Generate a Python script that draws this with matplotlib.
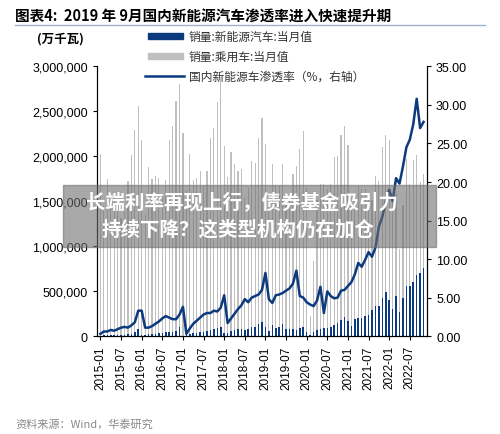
import matplotlib
matplotlib.use("Agg")
import matplotlib.pyplot as plt
import matplotlib.ticker as mt
import numpy as np

plt.rcParams['font.family'] = ['Noto Sans CJK SC', 'DejaVu Sans']

months = [f"{y}-{m:02d}" for y in range(2015, 2023) for m in range(1, 13)][:95]
passenger = [2030,1450,1750,1550,1560,1490,1310,1390,1730,2020,2290,2560,
             2180,1350,1880,1750,1780,1760,1560,1740,2180,2340,2610,2800,
             2260,1630,2030,1740,1760,1840,1670,1840,2200,2310,2600,2880,
             2120,1770,2050,1910,1840,1860,1540,1650,1950,1930,2200,2430,
             2140,1390,1910,1680,1670,1910,1470,1580,1800,1890,2080,2280,
             1650,220,840,1510,1690,1690,1640,1690,1990,2000,2240,2340,
             2130,1460,1560,1670,1640,1640,1550,1510,1780,1730,2100,2240,
             2180,1480,1580,970,1460,1970,1690,1960,2010,1710,1800]
nev = [6,9,11,13,11,13,14,17,19,28,42,82,
       10,15,22,25,28,34,36,45,46,46,57,100,
       5,17,26,31,36,44,47,54,65,76,86,106,
       38,39,57,67,74,84,67,82,101,105,132,155,
       96,53,120,92,98,130,78,79,77,70,86,106,
       42,11,50,72,77,87,86,99,125,150,180,210,
       170,110,190,200,200,220,240,290,330,340,420,490,
       400,300,450,270,420,560,560,600,680,700,760]
rate = [0.3,0.6,0.6,0.8,0.7,0.9,1.1,1.2,1.1,1.4,1.8,3.3,
        3.3,1.1,1.1,1.3,1.6,1.9,2.3,2.6,2.4,2.2,2.2,2.8,
        3.8,0.3,1.0,1.6,2.0,2.4,2.8,3.0,3.0,3.3,3.2,3.7,
        5.3,1.7,2.3,2.9,3.5,4.0,4.8,4.4,5.0,5.2,5.4,6.0,
        8.2,4.8,4.3,5.3,5.4,5.6,5.9,6.2,6.8,8.5,5.2,5.0,
        4.4,4.1,3.9,4.6,6.4,3.0,5.8,5.2,4.9,5.0,5.9,6.0,
        6.5,7.0,8.0,9.5,9.0,9.9,10.9,10.3,11.5,14.2,15.5,17.5,
        19.0,17.5,20.5,19.8,22.0,24.5,25.5,27.5,30.8,27.0,27.8]
n = len(months)
x = np.arange(n)

fig = plt.figure(figsize=(5, 4.35), dpi=100)
ax = fig.add_axes([0.194, 0.225, 0.66, 0.62])
ax.bar(x, [p*1000 for p in passenger], width=0.35, color='#bfbfbf', zorder=1)
ax.bar(x, [v*1000 for v in nev], width=0.45, color='#0b3a7e', zorder=2)
ax.set_ylim(0, 3000000)
ax.set_xlim(-1, n)
ax.yaxis.set_major_locator(mt.MultipleLocator(500000))
ax.yaxis.set_major_formatter(mt.StrMethodFormatter('{x:,.0f}'))
ax2 = ax.twinx()
ax2.plot(x[:len(rate)], rate, color='#0b3a7e', lw=1.8, zorder=3)
ax2.set_ylim(0, 35)
ax2.yaxis.set_major_locator(mt.MultipleLocator(5))
ax2.yaxis.set_major_formatter(mt.StrMethodFormatter('{x:.2f}'))
ax.set_xticks(x[::6])
ax.set_xticklabels(months[::6], rotation=90, fontsize=8.5, family='Liberation Sans')
for a in (ax, ax2):
    a.spines['top'].set_visible(False)
    for lab in a.get_yticklabels():
        lab.set_family('Liberation Sans'); lab.set_fontsize(9)
    a.tick_params(length=3)

fig.text(0.03, 0.965, '图表4:  2019 年 9月国内新能源汽车渗透率进入快速提升期', fontsize=10.5, weight='bold', va='center')
fig.add_artist(plt.Line2D([0.03, 0.97], [0.94, 0.94], color='#9fb3c8', lw=1))
fig.text(0.075, 0.91, '(万千瓦)', fontsize=9, weight='bold', va='center')
ly = [0.915, 0.868, 0.822]
labels = ['销量:新能源汽车:当月值', '销量:乘用车:当月值', '国内新能源车渗透率（%，右轴）']
fig.add_artist(plt.Rectangle((0.295, ly[0]-0.007), 0.07, 0.014, color='#0b3a7e', transform=fig.transFigure))
fig.add_artist(plt.Rectangle((0.295, ly[1]-0.007), 0.07, 0.014, color='#bfbfbf', transform=fig.transFigure))
fig.add_artist(plt.Line2D([0.29, 0.368], [ly[2], ly[2]], color='#0b3a7e', lw=1.8))
for yy, t in zip(ly, labels):
    fig.text(0.378, yy, t, fontsize=8.5, va='center', color='#333333')
fig.text(0.03, 0.025, '资料来源：Wind，华泰研究', fontsize=8, color='#888888', va='center')

fig.add_artist(plt.Rectangle((0.126, 0.43), 0.746, 0.143, color='#6e6e6e', alpha=0.6, transform=fig.transFigure, zorder=10))
fig.text(0.484, 0.533, '长端利率再现上行，债券基金吸引力', fontsize=14, weight='bold', color='white', ha='center', va='center', zorder=11)
fig.text(0.476, 0.471, '持续下降？这类型机构仍在加仓', fontsize=14, weight='bold', color='white', ha='center', va='center', zorder=11)
fig.savefig('out.png', dpi=100)
